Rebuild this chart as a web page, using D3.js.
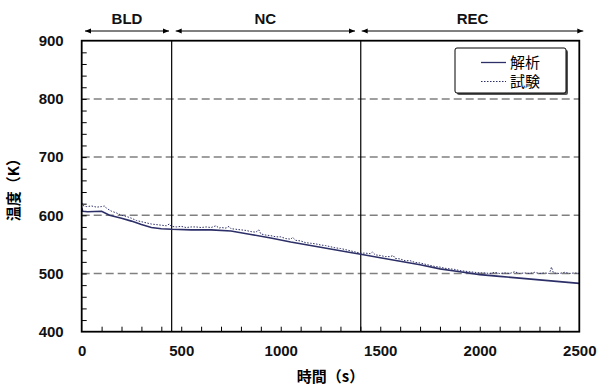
<!DOCTYPE html>
<html>
<head>
<meta charset="utf-8">
<script src="https://d3js.org/d3.v7.min.js"></script>
<style>
  body { margin: 0; background: #fff; }
  text { font-family: "Liberation Sans", Arial, sans-serif; }
  .cjk { font-family: "Noto Sans CJK JP", sans-serif; }
</style>
</head>
<body>
<svg id="chart" width="597" height="387"></svg>
<script>
// phase boundaries (s) and names
var phases = ["BLD", "NC", "REC"];
var phaseEdges = [0, 452, 1402, 2500];

var yTicks = [400, 500, 600, 700, 800, 900];
var xTicks = [0, 500, 1000, 1500, 2000, 2500];
var gridValues = [500, 600, 700, 800];

// 解析 (analysis) [time s, temperature K]
var analysis = [
  [0, 613], [5, 607], [30, 606], [100, 607], [140, 600], [200, 595], [250, 590],
  [300, 584], [350, 579], [400, 577], [452, 576], [550, 575], [650, 575],
  [750, 573], [850, 567], [950, 561], [1050, 554], [1150, 548], [1250, 542],
  [1350, 536], [1402, 533], [1500, 527], [1600, 521], [1700, 515], [1800, 508],
  [1900, 503], [2000, 498], [2100, 495], [2200, 492], [2300, 489], [2400, 486],
  [2500, 483]
];

// 試験 (test) [time s, temperature K]
var experiment = [
  [0, 622], [10, 616], [25, 615], [50, 616], [75, 614], [100, 615], [115, 616],
  [125, 612], [150, 607], [175, 604], [200, 600], [225, 598], [250, 595],
  [275, 591], [300, 589], [325, 587], [350, 585], [375, 584], [400, 583],
  [425, 582], [440, 585], [450, 581], [475, 580], [500, 581], [525, 579],
  [550, 580], [575, 580], [600, 579], [625, 580], [650, 579], [675, 582],
  [690, 578], [700, 579], [725, 578], [740, 581], [750, 577], [775, 576],
  [800, 575], [825, 574], [850, 572], [875, 571], [890, 575], [900, 568],
  [925, 566], [950, 565], [975, 563], [1000, 563], [1025, 560], [1050, 559],
  [1060, 562], [1075, 557], [1100, 556], [1125, 553], [1150, 552], [1175, 551],
  [1200, 549], [1225, 548], [1250, 546], [1275, 544], [1300, 543], [1325, 541],
  [1350, 539], [1375, 537], [1400, 535], [1425, 535], [1450, 534], [1460, 537],
  [1475, 532], [1500, 531], [1525, 529], [1550, 529], [1565, 531], [1575, 526],
  [1600, 525], [1625, 522], [1650, 522], [1675, 519], [1700, 518], [1725, 516],
  [1750, 514], [1775, 512], [1800, 511], [1825, 509], [1850, 508], [1875, 507],
  [1900, 505], [1925, 504], [1950, 503], [1975, 502], [2000, 501], [2025, 501],
  [2050, 500], [2075, 502], [2100, 500], [2125, 501], [2150, 500], [2175, 503],
  [2200, 500], [2225, 501], [2250, 500], [2275, 502], [2300, 500], [2325, 501],
  [2350, 500], [2360, 511], [2370, 501], [2400, 500], [2425, 502], [2450, 500],
  [2475, 501], [2500, 500]
];

var navy = "#2c2f68";
var svg = d3.select("#chart");
var plotL = 81.7, plotR = 579.3, plotT = 40.7, plotB = 331.7;

var x = d3.scaleLinear().domain([0, 2500]).range([plotL, plotR]);
var y = d3.scaleLinear().domain([400, 900]).range([plotB, plotT]);

// grid lines
svg.append("g").selectAll("line").data(gridValues).enter().append("line")
  .attr("x1", plotL).attr("x2", plotR)
  .attr("y1", function(d) { return y(d); })
  .attr("y2", function(d) { return y(d); })
  .attr("stroke", "#808080").attr("stroke-width", 1.5)
  .attr("stroke-dasharray", "8,4");

// minor ticks (inside)
svg.append("g")
  .attr("transform", "translate(" + plotL + ",0)")
  .call(d3.axisLeft(y).tickValues(d3.range(420, 900, 20)).tickSize(-5).tickFormat(""))
  .call(function(g) { g.select(".domain").remove(); g.selectAll("line").attr("stroke", "#000"); });
svg.append("g")
  .attr("transform", "translate(0," + plotB + ")")
  .call(d3.axisBottom(x).tickValues(d3.range(100, 2500, 100)).tickSize(-5).tickFormat(""))
  .call(function(g) { g.select(".domain").remove(); g.selectAll("line").attr("stroke", "#000"); });

// tick labels
svg.append("g")
  .attr("transform", "translate(" + plotL + ",0)")
  .call(d3.axisLeft(y).tickValues(yTicks).tickSize(0).tickPadding(18).tickFormat(d3.format("d")))
  .call(function(g) {
    g.select(".domain").remove();
    g.selectAll("text").attr("font-size", "15px").attr("font-weight", "bold")
      .attr("font-family", "'Liberation Sans', Arial, sans-serif").attr("fill", "#111");
  });
svg.append("g")
  .attr("transform", "translate(0," + plotB + ")")
  .call(d3.axisBottom(x).tickValues(xTicks).tickSize(0).tickPadding(14).tickFormat(d3.format("d")))
  .call(function(g) {
    g.select(".domain").remove();
    g.selectAll("text").attr("font-size", "15px").attr("font-weight", "bold")
      .attr("font-family", "'Liberation Sans', Arial, sans-serif").attr("fill", "#111");
  });

// phase separators
svg.append("g").selectAll("line").data(phaseEdges.slice(1, 3)).enter().append("line")
  .attr("x1", function(d) { return x(d); }).attr("x2", function(d) { return x(d); })
  .attr("y1", plotT).attr("y2", plotB)
  .attr("stroke", "#000").attr("stroke-width", 1.2);

// data lines
var line = d3.line().x(function(d) { return x(d[0]); }).y(function(d) { return y(d[1]); });
svg.append("path").datum(experiment).attr("d", line)
  .attr("fill", "none").attr("stroke", navy).attr("stroke-width", 1)
  .attr("stroke-dasharray", "1.5,1.5");
svg.append("path").datum(analysis).attr("d", line)
  .attr("fill", "none").attr("stroke", navy).attr("stroke-width", 1.6);

// frame
svg.append("rect").attr("x", plotL).attr("y", plotT)
  .attr("width", plotR - plotL).attr("height", plotB - plotT)
  .attr("fill", "none").attr("stroke", "#000").attr("stroke-width", 1.8);

// phase arrows
var defs = svg.append("defs");
defs.append("marker").attr("id", "ah").attr("viewBox", "0 0 10 10")
  .attr("refX", 10).attr("refY", 5).attr("markerWidth", 6).attr("markerHeight", 6)
  .attr("orient", "auto-start-reverse")
  .append("path").attr("d", "M0,1 L10,5 L0,9 Z").attr("fill", "#000");

var arrowSpans = [[85, 169], [175.7, 355], [361.7, 583.3]];
svg.append("g").selectAll("line").data(arrowSpans).enter().append("line")
  .attr("x1", function(d) { return d[0]; }).attr("x2", function(d) { return d[1]; })
  .attr("y1", 31).attr("y2", 31)
  .attr("stroke", "#000").attr("stroke-width", 1)
  .attr("marker-start", "url(#ah)").attr("marker-end", "url(#ah)");
svg.append("g").selectAll("text").data(phases).enter().append("text")
  .attr("x", function(d, i) { return (arrowSpans[i][0] + arrowSpans[i][1]) / 2; })
  .attr("y", 24)
  .attr("text-anchor", "middle").attr("font-size", "15px").attr("font-weight", "bold")
  .attr("fill", "#111")
  .text(function(d) { return d; });

// axis titles
svg.append("text").attr("class", "cjk")
  .attr("x", (plotL + plotR) / 2).attr("y", 382)
  .attr("text-anchor", "middle").attr("font-size", "15px").attr("font-weight", "bold")
  .text("時間（s）");
svg.append("text").attr("class", "cjk")
  .attr("transform", "rotate(-90)")
  .attr("x", -(plotT + plotB) / 2).attr("y", 19)
  .attr("text-anchor", "middle").attr("font-size", "15px").attr("font-weight", "bold")
  .text("温度（K）");

// legend
var lg = svg.append("g").attr("transform", "translate(455,48)");
lg.append("rect").attr("x", 2).attr("y", 2).attr("width", 111).attr("height", 45)
  .attr("fill", "#555").attr("rx", 2);
lg.append("rect").attr("width", 111).attr("height", 45)
  .attr("fill", "#fff").attr("stroke", "#000").attr("stroke-width", 1).attr("rx", 2);
var legendItems = [["解析", null], ["試験", "1.5,1.5"]];
legendItems.forEach(function(it, i) {
  var ly = 14.5 + i * 19;
  lg.append("line").attr("x1", 26).attr("x2", 51).attr("y1", ly).attr("y2", ly)
    .attr("stroke", navy).attr("stroke-width", it[1] ? 1 : 1.3)
    .attr("stroke-dasharray", it[1]);
  lg.append("text").attr("class", "cjk").attr("x", 55).attr("y", ly)
    .attr("dy", "0.36em").attr("font-size", "15px").text(it[0]);
});
</script>
</body>
</html>
